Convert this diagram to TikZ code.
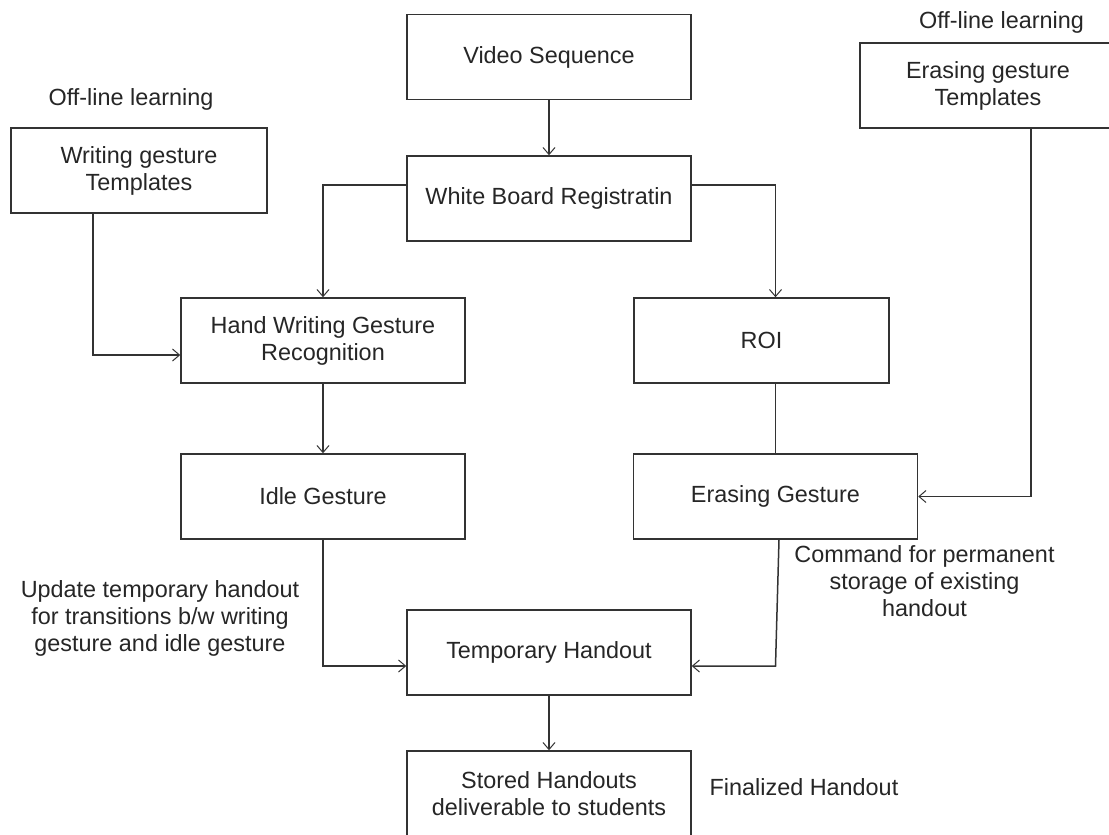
\documentclass[tikz,border=0pt]{standalone}
\usepackage{fontspec}
\setmainfont{Liberation Sans}
\usetikzlibrary{positioning,arrows.meta}

\begin{document}
\begin{tikzpicture}[x=0.5pt, y=-0.5pt,
                font=\fontsize{11.7}{13.5}\selectfont,
                block/.style={rectangle, draw=black!80, line width=0.75pt, minimum width=142pt, minimum height=42.5pt, inner sep=0pt, align=center, text=black!85},
                note/.style={align=center, text=black!85},
                link/.style={draw=black!80, line width=0.75pt, -{Straight Barb[length=3.5pt,width=6pt,line width=0.5pt]}},
                plain/.style={draw=black!80, line width=0.75pt}
            ]
            \path[use as bounding box, fill=white] (0,0) rectangle (1109,835);
            \clip (0,0) rectangle (1109,835);

            \node (VideoSeq) [block] at (549,57) {Video Sequence};
            \node (BoardReg) [block] at (549,198.5) {White Board Registratin};
            \node (WriteTpl) [block, minimum width=128pt] at (139,170.5) {Writing gesture\\Templates};
            \node (EraseTpl) [block, minimum width=128pt] at (988,85.5) {Erasing gesture\\Templates};
            \node (HandRec) [block] at (323,340.5) {Hand Writing Gesture\\Recognition};
            \node (Roi) [block, minimum width=127.5pt] at (761.5,340.5) {ROI};
            \node (Idle) [block] at (323,496.5) {Idle Gesture};
            \node (EraseGest) [block] at (775.5,496.5) {Erasing Gesture};
            \node (TempHand) [block] at (549,652.5) {Temporary Handout};
            \node (Stored) [block] at (549,793.5) {Stored Handouts\\deliverable to students};

            \node (OffLeft) [note] at (131,99) {Off-line learning};
            \node (OffRight) [note] at (1001.5,22) {Off-line learning};
            \node (UpdNote) [note] at (160,618) {Update temporary handout\\for transitions b/w writing\\gesture and idle gesture};
            \node (CmdNote) [note] at (924.5,581) {Command for permanent\\storage of existing\\handout};
            \node (FinalNote) [note] at (804,787) {Finalized Handout};

            \draw[link] (VideoSeq) -- (BoardReg);
            \draw[link] ([yshift=6.75pt]BoardReg.west) -| (HandRec.north);
            \draw[link] ([yshift=6.75pt]BoardReg.east) -| (EraseGest.north |- Roi.north);
            \draw[plain] (Roi.south -| EraseGest.north) -- (EraseGest.north);
            \draw[link] ([xshift=-23pt]WriteTpl.south) |- ([yshift=-7.25pt]HandRec.west);
            \draw[link] ([xshift=21.5pt]EraseTpl.south) |- (EraseGest.east);
            \draw[link] (HandRec) -- (Idle);
            \draw[link] (Idle.south) |- ([yshift=-6.75pt]TempHand.west);
            \draw[link] ([xshift=1.75pt]EraseGest.south) -- ([yshift=-6.75pt]TempHand.east -| EraseGest.south) -- ([yshift=-6.75pt]TempHand.east);
            \draw[link] (TempHand) -- (Stored);
\end{tikzpicture}
\end{document}
